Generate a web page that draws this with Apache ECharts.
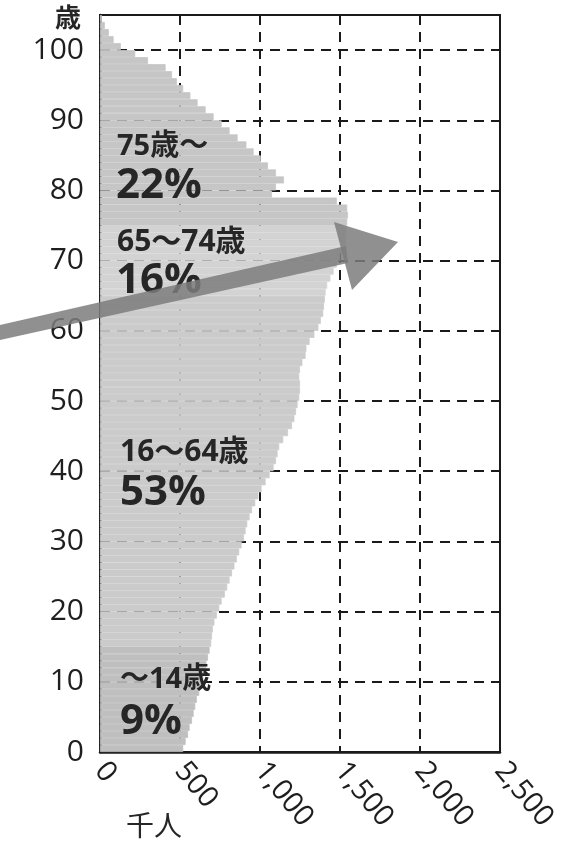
<!DOCTYPE html>
<html>
<head>
<meta charset="utf-8">
<script src="https://cdn.jsdelivr.net/npm/echarts@6/dist/echarts.min.js"></script>
<style>
  html, body { margin: 0; padding: 0; background: #ffffff; }
  #chart { width: 569px; height: 849px; }
</style>
</head>
<body>
<div id="chart"></div>
<script>
// Ages 0..104 (one category per year of age)
const ages = Array.from({ length: 105 }, (_, i) => String(i));

// Population per single year of age, thousands
const population = [
  520, 535, 550, 560, 575, 585, 595, 605, 620, 635,        // 0-9
  645, 655, 665, 675, 685, 695, 700, 705, 715, 730,        // 10-19
  745, 760, 780, 795, 810, 825, 840, 855, 870, 885,        // 20-29
  900, 910, 920, 935, 950, 970, 990, 1010, 1035, 1060,     // 30-39
  1085, 1100, 1110, 1120, 1145, 1175, 1200, 1215, 1225, 1235, // 40-49
  1245, 1250, 1250, 1245, 1250, 1265, 1285, 1290, 1310, 1340, // 50-59
  1365, 1380, 1395, 1400, 1405, 1410, 1420, 1440, 1460, 1480, // 60-69
  1500, 1520, 1535, 1540, 1540, 1545, 1550, 1545, 1480, 1075, // 70-79
  1100, 1150, 1100, 1050, 1005, 960, 915, 860, 810, 760,   // 80-89
  710, 660, 610, 565, 520, 480, 450, 410, 300, 220,        // 90-99
  130, 85, 55, 30, 12                                      // 100-104
];

// Age groups (lower bound of each group) and their shades
const groupStarts = [0, 15, 65, 75];
const groupColors = ['#bfbfbf', '#cbcbcb', '#d3d3d3', '#c6c6c6'];

// Group annotations
const groupNames = ['〜14歳', '16〜64歳', '65〜74歳', '75歳〜'];
const groupShares = ['9%', '53%', '16%', '22%'];

// Axis ticks
const ageTicks = [0, 10, 20, 30, 40, 50, 60, 70, 80, 90, 100];
const popTicks = [0, 500, 1000, 1500, 2000, 2500];

function colorFor(age) {
  let c = groupColors[0];
  for (let i = 0; i < groupStarts.length; i++) if (age >= groupStarts[i]) c = groupColors[i];
  return c;
}

const chart = echarts.init(document.getElementById('chart'), null, { renderer: 'canvas' });

const numFont = "'Open Sans', 'Noto Sans CJK JP', sans-serif";
const txt = '#262626';

function label(text, x, y, size, weight) {
  return {
    type: 'text', z: 50,
    style: {
      text: text, x: x, y: y, fill: txt,
      font: (weight || 'bold') + ' ' + size + 'px ' + numFont,
      align: 'left', verticalAlign: 'middle'
    }
  };
}

const option = {
  backgroundColor: '#ffffff',
  animation: false,
  grid: {
    left: 100, right: 69, top: 15, bottom: 97,
    show: true, borderColor: '#1a1a1a', borderWidth: 2, backgroundColor: 'transparent'
  },
  xAxis: {
    type: 'value', min: 0, max: 2500, interval: 500,
    axisLine: { show: true, lineStyle: { color: '#1a1a1a', width: 2.5 } },
    axisTick: { show: false },
    splitLine: { show: true, lineStyle: { color: '#1a1a1a', width: 2, type: [10, 7] } },
    axisLabel: {
      rotate: -50, margin: 14, fontSize: 29, color: '#1e1e1e', fontWeight: 500,
      fontFamily: numFont,
      formatter: v => popTicks.indexOf(v) >= 0 ? v.toLocaleString('en-US') : ''
    }
  },
  yAxis: [
    {
      type: 'category', data: ages, show: false, boundaryGap: true
    },
    {
      type: 'value', min: 0, max: 105, interval: 10, position: 'left',
      axisLine: { show: true, lineStyle: { color: '#1a1a1a', width: 2.5 } },
      axisTick: { show: true, inside: true, length: 5, lineStyle: { color: '#1a1a1a', width: 2 } },
      splitLine: { show: true, lineStyle: { color: '#1a1a1a', width: 2, type: [10, 7] } },
      axisLabel: {
        margin: 16, fontSize: 30, color: '#1e1e1e', fontWeight: 500, fontFamily: numFont,
        formatter: v => ageTicks.indexOf(v) >= 0 ? String(v) : ''
      }
    }
  ],
  series: [{
    type: 'bar',
    yAxisIndex: 0,
    barCategoryGap: '0%',
    barGap: '0%',
    data: population.map((v, i) => {
      const c = colorFor(i);
      return { value: v, itemStyle: { color: c, borderColor: c, borderWidth: 0.8 } };
    }),
    silent: true
  }],
  graphic: [
    // axis name
    { type: 'text', z: 50, style: { text: '歳', x: 68, y: 17, fill: txt,
      font: "bold 26px 'Noto Sans CJK JP', sans-serif", align: 'center', verticalAlign: 'middle' } },
    { type: 'text', z: 50, style: { text: '千人', x: 154, y: 825, fill: txt,
      font: "28px 'Noto Sans CJK JP', sans-serif", align: 'center', verticalAlign: 'middle' } },
    // group labels
    label(groupNames[3], 117, 147, 29),
    label(groupShares[3], 116, 186, 42),
    label(groupNames[2], 117, 242, 30),
    label(groupShares[2], 116, 281, 42),
    label(groupNames[1], 120, 452, 30),
    label(groupShares[1], 120, 493, 42),
    label(groupNames[0], 120, 680, 29),
    label(groupShares[0], 120, 722, 42),
    // arrow (annotation)
    { type: 'polygon', z: 60, shape: { points: [[0, 325], [346, 246], [348, 263], [0, 340]] },
      style: { fill: '#7d7d7d', opacity: 0.85 } },
    { type: 'polygon', z: 60, shape: { points: [[334, 222], [398, 242], [352, 290]] },
      style: { fill: '#7d7d7d', opacity: 0.85 } }
  ]
};

chart.setOption(option);
</script>
</body>
</html>
